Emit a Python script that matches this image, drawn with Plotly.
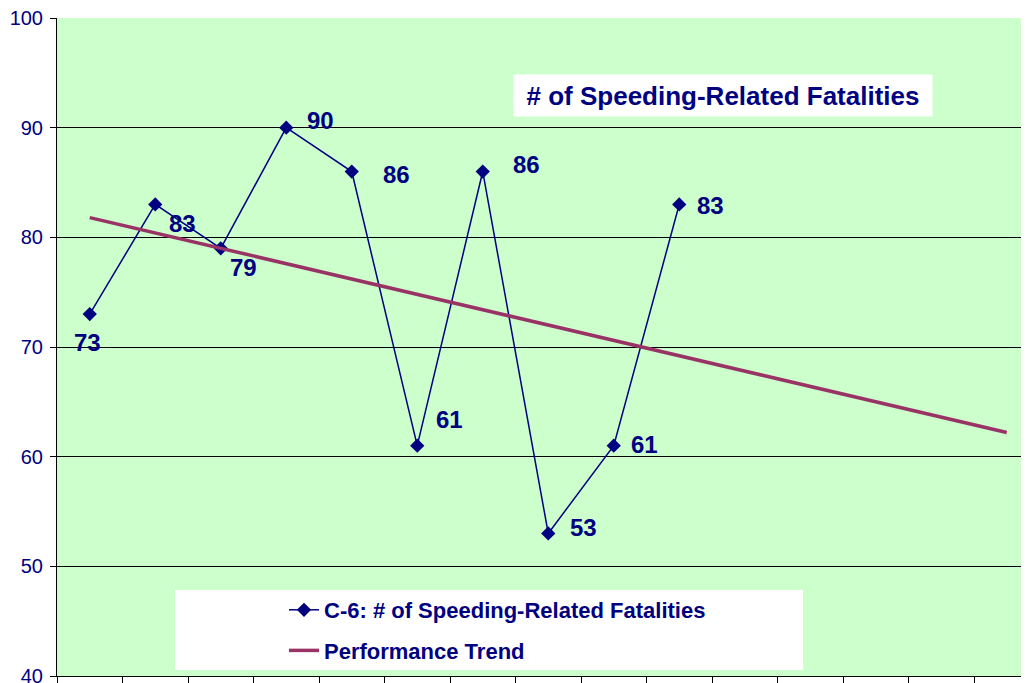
import plotly.graph_objects as go

# values (x-axis categories are unlabeled in the original)
periods = list(range(10))
fatalities = [73, 83, 79, 90, 86, 61, 86, 53, 61, 83]
trend_x = [0, 14]
trend_y = [81.8, 62.2]
y_ticks = [40, 50, 60, 70, 80, 90, 100]

NAVY = "#000080"
PLUM = "#993366"
BG = "#CCFFCC"
FONT = "Liberation Sans, Arial, sans-serif"

# pixel offsets of each data label from its marker
label_shift = [(-2, -28), (27, -19), (23, -19), (34, 7), (45, -3),
               (32, 26), (44, 7), (35, 6), (31, 1), (31, -1)]

# the page body has an 8px margin, so the figure is 8px smaller than the window
W, H = 1021, 675
PW, PH = 972, 658  # plot area size

fig = go.Figure()
fig.add_trace(go.Scatter(
    x=periods, y=fatalities, mode="lines+markers",
    name="C-6: # of Speeding-Related Fatalities",
    line=dict(color=NAVY, width=1.5),
    marker=dict(symbol="diamond", size=11, color=NAVY),
    legendgroup="a",
))
fig.add_trace(go.Scatter(
    x=trend_x, y=trend_y, mode="lines", name="Performance Trend",
    line=dict(color=PLUM, width=3.5), legendgroup="b",
))

for x, y, (dx, dy) in zip(periods, fatalities, label_shift):
    fig.add_annotation(
        x=x, y=y, text=f"<b>{y}</b>", showarrow=False, xshift=dx, yshift=dy,
        font=dict(family=FONT, size=24, color=NAVY),
    )

fig.add_annotation(
    xref="paper", yref="paper", x=(723 - 57) / PW, y=(676 - 95) / PH,
    xanchor="center", yanchor="middle",
    text="<b># of Speeding-Related Fatalities</b>", showarrow=False,
    bgcolor="white", width=410, height=33, borderpad=4,
    font=dict(family=FONT, size=26, color=NAVY),
)

# white legend panel
fig.add_shape(type="rect", xref="paper", yref="paper", layer="below",
              x0=(175 - 57) / PW, x1=(803 - 57) / PW,
              y0=(676 - 670) / PH, y1=(676 - 590) / PH,
              fillcolor="white", line=dict(width=0))

fig.update_layout(
    width=W, height=H,
    margin=dict(l=49, r=0, t=10, b=7, autoexpand=False),
    paper_bgcolor="white", plot_bgcolor=BG,
    font=dict(family=FONT, color=NAVY),
    showlegend=True,
    legend=dict(
        x=(284 - 57) / PW, y=(676 - 589) / PH, xanchor="left", yanchor="top",
        bgcolor="rgba(0,0,0,0)", traceorder="grouped", tracegroupgap=9,
        font=dict(family=FONT, size=22, color=NAVY, weight="bold"),
    ),
    xaxis=dict(
        range=[-0.5, -0.5 + PW / 65.5], automargin=False,
        tickvals=[i - 0.5 for i in range(16)], ticktext=[""] * 16,
        ticks="outside", ticklen=6, tickcolor="black",
        showgrid=False, zeroline=False,
        showline=True, linecolor="black", linewidth=1,
    ),
    yaxis=dict(
        range=[40, 100], tickvals=y_ticks, automargin=False,
        ticklabeloverflow="allow",
        ticks="outside", ticklen=6, tickcolor="black", ticklabelstandoff=3,
        showgrid=True, gridcolor="black", gridwidth=1,
        zeroline=False, showline=True, linecolor="black", linewidth=1,
        tickfont=dict(family=FONT, size=20, color=NAVY),
    ),
)

fig.write_html("out.html")
